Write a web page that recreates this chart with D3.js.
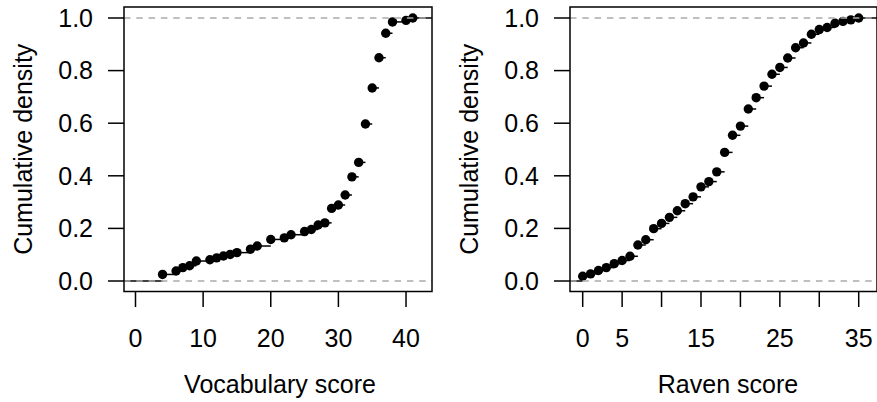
<!DOCTYPE html>
<html>
<head>
<meta charset="utf-8">
<script src="https://cdn.jsdelivr.net/npm/d3@7"></script>
<style>
  body { margin: 0; background: #fff; }
  svg { display: block; font-family: "Liberation Sans", Arial, sans-serif; }
  .box { fill: none; stroke: #000; stroke-width: 1.5; }
  .tick { stroke: #000; stroke-width: 1.5; }
  .step { stroke: #000; stroke-width: 1.5; }
  .ref { stroke: #aaa; stroke-width: 1.3; stroke-dasharray: 6.5 5.8; }
  text { font-size: 25px; fill: #000; }
</style>
</head>
<body>
<svg width="877" height="402"></svg>
<script>
// vocabulary scores present in the sample and their cumulative density
var vocabScores = [4, 6, 7, 8, 9, 11, 12, 13, 14, 15, 17, 18, 20, 22, 23, 25, 26, 27, 28,
                   29, 30, 31, 32, 33, 34, 35, 36, 37, 38, 40, 41];
var vocabCdf = [0.025, 0.038, 0.051, 0.058, 0.076, 0.081, 0.088, 0.095, 0.101, 0.108,
                0.121, 0.133, 0.158, 0.164, 0.176, 0.188, 0.196, 0.213, 0.221, 0.276,
                0.289, 0.327, 0.396, 0.451, 0.597, 0.734, 0.849, 0.942, 0.985, 0.991, 1.0];
var vocabTicks = [0, 10, 20, 30, 40];
var vocabTickLabels = ["0", "10", "20", "30", "40"];

// raven scores 0..35 and their cumulative density
var ravenScores = [0, 1, 2, 3, 4, 5, 6, 7, 8, 9, 10, 11, 12, 13, 14, 15, 16, 17, 18,
                   19, 20, 21, 22, 23, 24, 25, 26, 27, 28, 29, 30, 31, 32, 33, 34, 35];
var ravenCdf = [0.018, 0.027, 0.040, 0.051, 0.066, 0.078, 0.094, 0.137, 0.157, 0.199,
                0.219, 0.242, 0.267, 0.294, 0.320, 0.358, 0.378, 0.415, 0.489, 0.554,
                0.589, 0.654, 0.697, 0.741, 0.786, 0.812, 0.848, 0.887, 0.905, 0.938,
                0.956, 0.964, 0.980, 0.987, 0.993, 1.0];
var ravenTicks = [0, 5, 10, 15, 20, 25, 30, 35];
var ravenTickLabels = ["0", "5", "", "15", "", "25", "", "35"];

var yTicks = [0, 0.2, 0.4, 0.6, 0.8, 1.0];
var yTitle = "Cumulative density";

var svg = d3.select("svg");

function panel(opts) {
  var left = opts.left, right = opts.right, top = 7, bottom = 291.5;

  var x = d3.scaleLinear().domain(opts.xDomain).range([left, right]);
  var y = d3.scaleLinear().domain([-0.0399, 1.0418]).range([bottom, top]);

  var g = svg.append("g");
  var pts = opts.scores.map(function (s, i) { return { x: s, f: opts.cdf[i] }; });

  // horizontal step segments, incl. the flat parts out to the box edges
  var segs = [{ x0: x.domain()[0], x1: pts[0].x, f: 0 }];
  pts.forEach(function (p, i) {
    segs.push({ x0: p.x, x1: i < pts.length - 1 ? pts[i + 1].x : x.domain()[1], f: p.f });
  });

  g.selectAll("line.step")
    .data(segs)
    .enter().append("line")
      .attr("class", "step")
      .attr("x1", function (d) { return x(d.x0); })
      .attr("x2", function (d) { return x(d.x1); })
      .attr("y1", function (d) { return y(d.f); })
      .attr("y2", function (d) { return y(d.f); });

  g.selectAll("circle")
    .data(pts)
    .enter().append("circle")
      .attr("cx", function (d) { return x(d.x); })
      .attr("cy", function (d) { return y(d.f); })
      .attr("r", 4.7)
      .attr("fill", "#000");

  // dashed reference lines at 0 and 1
  g.selectAll("line.ref")
    .data([0, 1])
    .enter().append("line")
      .attr("class", "ref")
      .attr("x1", left).attr("x2", right)
      .attr("y1", function (d) { return y(d); })
      .attr("y2", function (d) { return y(d); });

  g.append("rect")
    .attr("class", "box")
    .attr("x", left).attr("y", top)
    .attr("width", right - left).attr("height", bottom - top);

  // x axis
  var xa = g.append("g");
  xa.selectAll("line")
    .data(opts.ticks)
    .enter().append("line")
      .attr("class", "tick")
      .attr("x1", function (d) { return x(d); })
      .attr("x2", function (d) { return x(d); })
      .attr("y1", bottom).attr("y2", bottom + 15.5);
  xa.selectAll("text")
    .data(opts.ticks)
    .enter().append("text")
      .attr("x", function (d) { return x(d); })
      .attr("y", 347)
      .attr("text-anchor", "middle")
      .text(function (d, i) { return opts.tickLabels[i]; });

  // y axis
  var ya = g.append("g");
  ya.selectAll("line")
    .data(yTicks)
    .enter().append("line")
      .attr("class", "tick")
      .attr("x1", left - 16).attr("x2", left)
      .attr("y1", function (d) { return y(d); })
      .attr("y2", function (d) { return y(d); });
  ya.selectAll("text")
    .data(yTicks)
    .enter().append("text")
      .attr("x", left - 31)
      .attr("y", function (d) { return y(d); })
      .attr("dy", "0.35em")
      .attr("text-anchor", "end")
      .text(d3.format(".1f"));

  g.append("text")
    .attr("x", opts.titleX)
    .attr("y", 393)
    .attr("text-anchor", "middle")
    .text(opts.title);

  g.append("text")
    .attr("transform", "translate(" + (left - 92) + "," + ((top + bottom) / 2) + ") rotate(-90)")
    .attr("text-anchor", "middle")
    .text(yTitle);
}

panel({
  left: 124, right: 432, xDomain: [-1.7, 43.84],
  scores: vocabScores, cdf: vocabCdf,
  ticks: vocabTicks, tickLabels: vocabTickLabels,
  title: "Vocabulary score", titleX: 280
});

panel({
  left: 570, right: 877, xDomain: [-1.61, 37.32],
  scores: ravenScores, cdf: ravenCdf,
  ticks: ravenTicks, tickLabels: ravenTickLabels,
  title: "Raven score", titleX: 728
});
</script>
</body>
</html>
